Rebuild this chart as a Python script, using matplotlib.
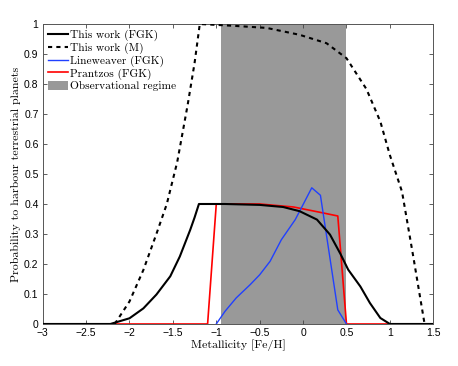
import matplotlib
matplotlib.use('Agg')
import matplotlib.pyplot as plt
from matplotlib.patches import Patch

# data
band = (-0.95, 0.5)

fgk_x = [-3, -2.22, -2.0, -1.84, -1.69, -1.53, -1.42, -1.30, -1.25, -1.2,
         -0.9, -0.5, -0.23, -0.04, 0.16, 0.31, 0.43, 0.52, 0.66, 0.77, 0.89, 1.0, 1.5]
fgk_y = [0, 0, 0.019, 0.052, 0.098, 0.159, 0.225, 0.314, 0.355, 0.4,
         0.4, 0.397, 0.39, 0.376, 0.348, 0.298, 0.234, 0.181, 0.125, 0.07, 0.02, 0, 0]

m_x = [-2.17, -2.0, -1.84, -1.69, -1.57, -1.45, -1.33, -1.25, -1.19,
       -0.8, -0.42, -0.04, 0.27, 0.5, 0.73, 0.89, 1.0, 1.14, 1.27, 1.4]
m_y = [0, 0.075, 0.18, 0.30, 0.40, 0.54, 0.73, 0.87, 1.0,
       0.994, 0.987, 0.964, 0.936, 0.886, 0.783, 0.675, 0.563, 0.441, 0.224, 0]

line_x = [-1.0, -0.9, -0.77, -0.61, -0.5, -0.38, -0.25, -0.09, 0.0, 0.1, 0.2, 0.4, 0.5]
line_y = [0, 0.042, 0.087, 0.131, 0.164, 0.209, 0.281, 0.348, 0.398, 0.454, 0.429, 0.047, 0]

pran_x = [-2.17, -1.1, -1.0, -0.5, -0.11, 0.2, 0.4, 0.5, 1.0]
pran_y = [0, 0, 0.4, 0.4, 0.39, 0.372, 0.36, 0, 0]

xticks = [-3, -2.5, -2, -1.5, -1, -0.5, 0, 0.5, 1, 1.5]
yticks = [0, 0.1, 0.2, 0.3, 0.4, 0.5, 0.6, 0.7, 0.8, 0.9, 1]

serif = 'cmr10'
sans = 'Liberation Sans'

fig = plt.figure(figsize=(4.58, 3.66), dpi=100)
ax = fig.add_axes([0.0932, 0.1148, 0.8528, 0.8196])

ax.axvspan(band[0], band[1], color='#999999', lw=0, zorder=1)
l1, = ax.plot(fgk_x, fgk_y, color='black', lw=1.5, zorder=5)
l2, = ax.plot(m_x, m_y, color='black', lw=1.5, ls=(0, (2, 2)), zorder=4)
l3, = ax.plot(line_x, line_y, color='#2040ff', lw=1.0, zorder=3)
l4, = ax.plot(pran_x, pran_y, color='#ff0000', lw=1.2, zorder=2)

ax.set_xlim(-3, 1.5)
ax.set_ylim(0, 1)
ax.set_xticks(xticks)
ax.set_xticklabels([('%g' % t).replace('-', '\u2212') for t in xticks], family=sans, fontsize=7.5)
ax.set_yticks(yticks)
ax.set_yticklabels(['%g' % t for t in yticks], family=sans, fontsize=7.5)
ax.tick_params(direction='in', top=True, right=True, length=3, width=0.6, color='#444444', pad=3)
for s in ax.spines.values():
    s.set_color('#555555')
    s.set_linewidth(0.7)

ax.set_xlabel('Metallicity [Fe/H]', family=serif, fontsize=8.6, labelpad=1)
ax.set_ylabel('Probability to harbour terrestrial planets', family=serif, fontsize=8.6, labelpad=2)

patch = Patch(facecolor='#999999', edgecolor='none')
ax.legend([l1, l2, l3, l4, patch],
          ['This work (FGK)', 'This work (M)', 'Lineweaver (FGK)', 'Prantzos (FGK)', 'Observational regime'],
          loc='upper left', frameon=False, prop={'family': serif, 'size': 8.2},
          handlelength=1.7, handletextpad=0.2, labelspacing=0.12,
          borderaxespad=0.2, borderpad=0.3, handleheight=0.8)

fig.savefig('out.png', dpi=100)
